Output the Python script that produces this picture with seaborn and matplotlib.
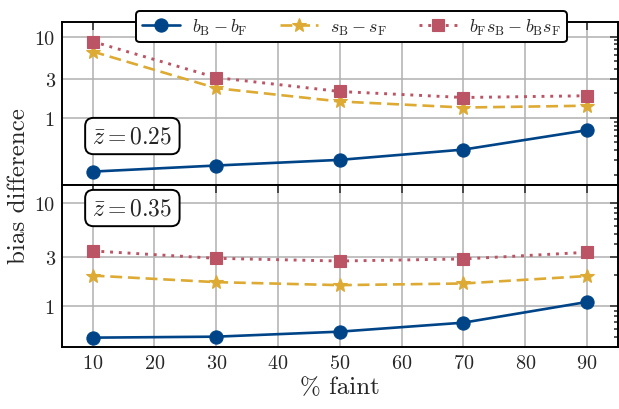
import numpy as np
import pandas as pd
import matplotlib
matplotlib.use("Agg")
import matplotlib.pyplot as plt
from matplotlib.ticker import LogLocator, NullFormatter, FixedLocator, FixedFormatter
import seaborn as sns

# Percentage of faint galaxies in the sample
pct_faint = [10, 30, 50, 70, 90]

# Mean redshift of each panel
zbar_labels = [r"$\bar{z}=0.25$", r"$\bar{z}=0.35$"]

# Bias differences, z = 0.25
db_z025 = [0.218, 0.259, 0.304, 0.407, 0.705]
ds_z025 = [6.55, 2.32, 1.59, 1.34, 1.41]
dbs_z025 = [8.7, 3.13, 2.11, 1.78, 1.87]

# Bias differences, z = 0.35
db_z035 = [0.496, 0.507, 0.567, 0.693, 1.10]
ds_z035 = [1.98, 1.71, 1.60, 1.66, 1.96]
dbs_z035 = [3.43, 2.91, 2.74, 2.87, 3.33]

series_labels = [r"$b_{\rm B}-b_{\rm F}$", r"$s_{\rm B}-s_{\rm F}$",
                 r"$b_{\rm F}s_{\rm B}-b_{\rm B}s_{\rm F}$"]
y_ticks = [1, 3, 10]
y_tick_labels = ["1", "3", "10"]
x_ticks = [10, 20, 30, 40, 50, 60, 70, 80, 90]

sns.set_style("white")
plt.rcParams.update({
    "font.family": "serif",
    "font.serif": ["cmr10", "DejaVu Serif"],
    "mathtext.fontset": "cm",
    "axes.formatter.use_mathtext": True,
    "axes.unicode_minus": False,
    "axes.linewidth": 1.4,
    "axes.edgecolor": "black",
})

colors = ["#004488", "#DDAA33", "#BB5566"]
styles = [
    dict(marker="o", markersize=9.5, linestyle="-", linewidth=1.9),
    dict(marker="*", markersize=10.5, linestyle=(0, (4.5, 2.2)), linewidth=1.9),
    dict(marker="s", markersize=9, linestyle=(0, (1, 2.0)), linewidth=2.1),
]

fig, axes = plt.subplots(2, 1, figsize=(6.19, 4.10), dpi=100, sharex=True)
fig.subplots_adjust(left=0.0997, right=0.9984, top=0.9432, bottom=0.1505, hspace=0)

panels = [
    (axes[0], [db_z025, ds_z025, dbs_z025], (0.15, 15), 0.30),
    (axes[1], [db_z035, ds_z035, dbs_z035], (0.40, 15), 0.857),
]

for i, (ax, data, ylim, box_y) in enumerate(panels):
    for vals, lab, col, st in zip(data, series_labels, colors, styles):
        df = pd.DataFrame({"x": pct_faint, "y": vals})
        sns.lineplot(data=df, x="x", y="y", ax=ax, color=col, label=lab,
                     markeredgecolor=col, markeredgewidth=0.8, zorder=3, **st)
    ax.set_yscale("log")
    ax.set_ylim(*ylim)
    ax.set_xlim(5, 95)
    ax.yaxis.set_major_locator(FixedLocator(y_ticks))
    ax.yaxis.set_major_formatter(FixedFormatter(y_tick_labels))
    ax.yaxis.set_minor_locator(LogLocator(base=10, subs=np.arange(2, 10), numticks=20))
    ax.yaxis.set_minor_formatter(NullFormatter())
    ax.xaxis.set_major_locator(FixedLocator(x_ticks))
    ax.tick_params(which="both", direction="in", top=True, right=True,
                   labelsize=14.5, width=1.1)
    ax.tick_params(which="major", length=5.5, pad=5)
    ax.tick_params(which="minor", length=2.8)
    ax.grid(True, which="major", color="#b0b0b0", linewidth=1.1)
    ax.set_axisbelow(True)
    ax.set_xlabel("")
    ax.set_ylabel("")
    ax.text(0.127, box_y, zbar_labels[i], transform=ax.transAxes, fontsize=17,
            ha="center", va="center", zorder=5,
            bbox=dict(boxstyle="round,pad=0.3,rounding_size=0.35", facecolor="white",
                      edgecolor="black", linewidth=1.4))
    if ax.get_legend() is not None:
        ax.get_legend().remove()

axes[1].set_xlabel("% faint", fontsize=18, labelpad=3)
fig.text(0.030, 0.546, "bias difference", rotation=90, fontsize=18,
         ha="center", va="center")

handles, labels = axes[0].get_legend_handles_labels()
leg = fig.legend(handles, labels, loc="upper center", bbox_to_anchor=(0.568, 0.992),
                 ncol=3, fontsize=13, frameon=True, fancybox=True, framealpha=1,
                 edgecolor="black", handlelength=2.1, columnspacing=1.75,
                 handletextpad=0.7, borderpad=0.3)
leg.get_frame().set_linewidth(1.4)
leg.set_zorder(10)

fig.savefig("out.png", dpi=100)
